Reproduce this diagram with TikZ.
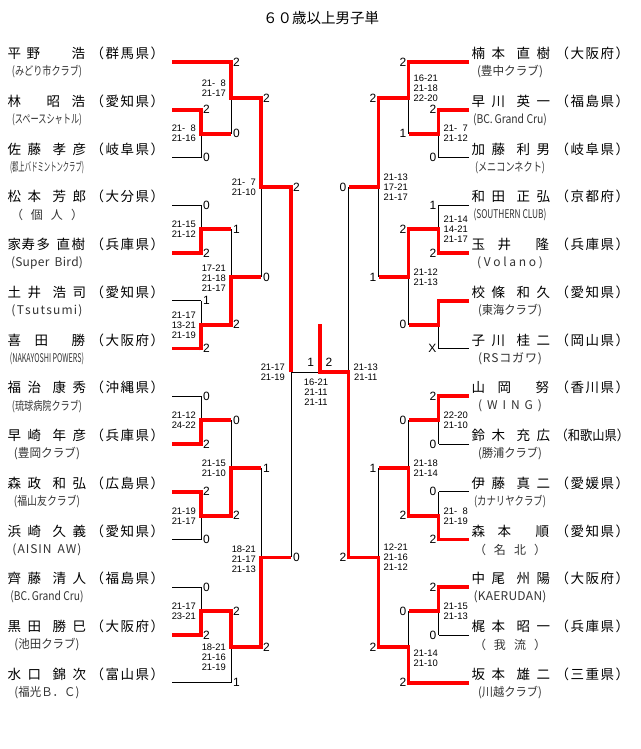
\documentclass[tikz,border=0pt]{standalone}
\usepackage{fontspec}
\usepackage{graphicx}
\setmainfont{Noto Sans CJK JP}
\newfontfamily\numf{Liberation Sans}
\usetikzlibrary{calc}
\newcommand\fsp{\phantom{0}}
\newcommand\nf[4]{\makebox[0pt][l]{#1}\hspace{20pt}\makebox[0pt][l]{#2}\hspace{25pt}\makebox[0pt][l]{#3}\hspace{20pt}\makebox[13.5pt][l]{#4}}
\newcommand\nt[4]{\makebox[0pt][l]{#1}\hspace{#4pt}\makebox[0pt][l]{#2}\hspace{\dimexpr 64pt-#4pt\relax}\makebox[13.5pt][l]{#3}}
\newcommand\pf[3]{（\kern1.5pt #1\kern1.5pt #2\kern1.5pt #3\kern1.5pt ）}
\newcommand\cw[2]{\resizebox{#1pt}{\height}{#2}}
\newcommand\cs[2]{\makebox[#1pt][s]{#2}}
\tikzset{
  bk/.style={draw=black, line width=1pt},
  rd/.style={draw=red, line width=3.8pt, shorten <=-1.9pt},
  rdp/.style={draw=red, line width=3.8pt},
  sc/.style={font=\numf\fontsize{12}{12}\selectfont, inner sep=0pt},
  gs/.style={font=\numf\fontsize{9.4}{10}\selectfont, inner sep=0pt, align=center},
  nm/.style={font=\fontsize{13.5}{14}\selectfont, inner sep=0pt, anchor=west},
  cl/.style={font=\fontsize{12}{12}\selectfont, inner sep=0pt, text=black!80},
}
\newcommand\plL[7]{%
  \coordinate (s#1) at (172,#2);
  \coordinate (#1) at (#3,#2);
  \draw[#4] (s#1) -- (#1);
  \node[nm] (n#1) at (7.5,#2-8.5) {#5};
  \node[nm] (p#1) at (90.5,#2-8.5) {#6};
  \node[cl] (c#1) at (47,#2+10) {#7};
}
\newcommand\plR[7]{%
  \coordinate (s#1) at (469,#2);
  \coordinate (#1) at (#3,#2);
  \draw[#4] (s#1) -- (#1);
  \node[nm] (n#1) at (471.5,#2-8.5) {#5};
  \node[nm] (p#1) at (555.5,#2-8.5) {#6};
  \node[cl] (c#1) at (510,#2+10) {#7};
}
\newcommand\boutL[7]{%
  \coordinate (#3-v) at ($(#1)!0.5!(#2)$);
  \coordinate (#3) at ($(#3-v)+(#4,0)$);
  \draw[bk] (#1) -- (#2);
  \draw[rd] (#5) -- (#3-v) -- (#3);
  \node[sc, anchor=west] (#3-st) at ($(#1)+(2,0)$) {#6};
  \node[sc, anchor=west] (#3-sb) at ($(#2)+(2,0)$) {#7};
}
\newcommand\boutR[7]{%
  \coordinate (#3-v) at ($(#1)!0.5!(#2)$);
  \coordinate (#3) at ($(#3-v)+(#4,0)$);
  \draw[bk] (#1) -- (#2);
  \draw[rd] (#5) -- (#3-v) -- (#3);
  \node[sc, anchor=east] (#3-st) at ($(#1)+(-2,0)$) {#6};
  \node[sc, anchor=east] (#3-sb) at ($(#2)+(-2,0)$) {#7};
}
\newcommand\gtL[3]{\node[gs, anchor=east] (g#1) at ($(#1-v)+(-5,#2)$) {#3};}
\newcommand\gtR[3]{\node[gs, anchor=west] (g#1) at ($(#1-v)+(5,#2)$) {#3};}
\begin{document}
\begin{tikzpicture}[x=1pt,y=-1pt]
\fill[white] (0,0) rectangle (640,749);
\useasboundingbox (0,0) rectangle (640,749);
\node[font=\fontsize{14.5}{15}\selectfont, inner sep=0pt] (title) at (321,18) {６０歳以上男子単};
% left players
\plL{L1}{62}{231}{rdp}{\nt{平}{野}{浩}{19}}{\pf{群}{馬}{県}}{\cw{70}{(みどり市クラブ)}}
\plL{L2}{109.75}{201}{rdp}{\nt{林}{昭}{浩}{39}}{\pf{愛}{知}{県}}{\cw{70}{(スペースシャトル)}}
\plL{L3}{157.5}{201}{bk}{\nf{佐}{藤}{孝}{彦}}{\pf{岐}{阜}{県}}{\cw{74}{(郡上バドミントンクラブ)}}
\plL{L4}{205.25}{201}{bk}{\nf{松}{本}{芳}{郎}}{\pf{大}{分}{県}}{\cs{72}{（\hfill 個\hfill 人\hfill ）}}
\plL{L5}{253}{201}{rdp}{\makebox[0pt][l]{家}\hspace{14pt}\makebox[0pt][l]{寿}\hspace{15pt}\makebox[0pt][l]{多}\hspace{20pt}\makebox[0pt][l]{直}\hspace{15pt}\makebox[13.5pt][l]{樹}}{\pf{兵}{庫}{県}}{\cs{72}{(\hfill S\hfill u\hfill p\hfill e\hfill r\hspace{5pt}\hfill B\hfill i\hfill r\hfill d\hfill )}}
\plL{L6}{300.75}{201}{bk}{\nf{土}{井}{浩}{司}}{\pf{愛}{知}{県}}{\cs{71}{(\hfill T\hfill s\hfill u\hfill t\hfill s\hfill u\hfill m\hfill i\hfill )}}
\plL{L7}{348.5}{201}{rdp}{\nt{喜}{田}{勝}{27}}{\pf{大}{阪}{府}}{\cw{74}{(NAKAYOSHI POWERS)}}
\plL{L8}{396.25}{201}{bk}{\nf{福}{治}{康}{秀}}{\pf{沖}{縄}{県}}{\cw{70}{(琉球病院クラブ)}}
\plL{L9}{444}{201}{rdp}{\nf{早}{崎}{年}{彦}}{\pf{兵}{庫}{県}}{\cw{66}{(豊岡クラブ)}}
\plL{L10}{491.75}{201}{rdp}{\nf{森}{政}{和}{弘}}{\pf{広}{島}{県}}{\cw{66}{(福山友クラブ)}}
\plL{L11}{539.5}{201}{bk}{\nf{浜}{崎}{久}{義}}{\pf{愛}{知}{県}}{\cs{69}{(\hfill A\hfill I\hfill S\hfill I\hfill N\hspace{5pt}\hfill A\hfill W\hfill )}}
\plL{L12}{587.25}{201}{bk}{\nf{齊}{藤}{清}{人}}{\pf{福}{島}{県}}{\cw{73}{(BC.\,Grand Cru)}}
\plL{L13}{635}{201}{rdp}{\nf{黒}{田}{勝}{巳}}{\pf{大}{阪}{府}}{\cw{65}{(池田クラブ)}}
\plL{L14}{682.75}{231}{bk}{\nf{水}{口}{錦}{次}}{\pf{富}{山}{県}}{\cw{65}{(福光Ｂ．Ｃ)}}
% right players
\plR{R1}{62}{408.5}{rdp}{\nf{楠}{本}{直}{樹}}{\pf{大}{阪}{府}}{\cw{66}{(豊中クラブ)}}
\plR{R2}{109.75}{438.5}{rdp}{\nf{早}{川}{英}{一}}{\pf{福}{島}{県}}{\cw{74}{(BC.\,Grand Cru)}}
\plR{R3}{157.5}{438.5}{bk}{\nf{加}{藤}{利}{男}}{\pf{岐}{阜}{県}}{\cw{70}{(メニコンネクト)}}
\plR{R4}{205.25}{438.5}{bk}{\nf{和}{田}{正}{弘}}{\pf{京}{都}{府}}{\cw{73}{(SOUTHERN CLUB)}}
\plR{R5}{253}{438.5}{rdp}{\nt{玉}{井}{隆}{26}}{\pf{兵}{庫}{県}}{\cs{66}{(\hfill V\hfill o\hfill l\hfill a\hfill n\hfill o\hfill )}}
\plR{R6}{300.75}{438.5}{rdp}{\nf{校}{條}{和}{久}}{\pf{愛}{知}{県}}{\cw{64}{(東海クラブ)}}
\plR{R7}{348.5}{438.5}{bk}{\nf{子}{川}{桂}{二}}{\pf{岡}{山}{県}}{\cs{64}{(\hfill R\hfill S\hfill コ\hfill ガ\hfill ワ\hfill )}}
\plR{R8}{396.25}{438.5}{rdp}{\nt{山}{岡}{努}{26}}{\pf{香}{川}{県}}{\cs{64}{(\hfill W\hfill I\hfill N\hfill G\hfill )}}
\plR{R9}{444}{438.5}{bk}{\nf{鈴}{木}{充}{広}}{\resizebox{73.5pt}{\height}{（和歌山県）}}{\cw{64}{(勝浦クラブ)}}
\plR{R10}{491.75}{438.5}{bk}{\nf{伊}{藤}{真}{二}}{\pf{愛}{媛}{県}}{\cw{72}{(カナリヤクラブ)}}
\plR{R11}{539.5}{438.5}{rdp}{\nt{森}{本}{順}{26}}{\pf{愛}{知}{県}}{\cs{72}{（\hfill 名\hfill 北\hfill ）}}
\plR{R12}{587.25}{438.5}{rdp}{\nf{中}{尾}{州}{陽}}{\pf{大}{阪}{府}}{\cs{73}{(\hfill K\hfill A\hfill E\hfill R\hfill U\hfill D\hfill A\hfill N\hfill )}}
\plR{R13}{635}{438.5}{bk}{\nf{梶}{本}{昭}{一}}{\pf{兵}{庫}{県}}{\cs{72}{（\hfill 我\hfill 流\hfill ）}}
\plR{R14}{682.75}{408.5}{rdp}{\nf{坂}{本}{雄}{二}}{\pf{三}{重}{県}}{\cw{64}{(川越クラブ)}}
% left bouts
\boutL{L2}{L3}{LA}{30}{L2}{2}{0}
\boutL{L1}{LA}{LB}{30}{L1}{2}{0}
\boutL{L4}{L5}{LC}{30}{L5}{0}{2}
\boutL{L6}{L7}{LD}{30}{L7}{1}{2}
\boutL{LC}{LD}{LE}{30}{LD}{1}{2}
\boutL{LB}{LE}{LF}{30}{LB}{2}{0}
\boutL{L8}{L9}{LG}{30}{L9}{0}{2}
\boutL{L10}{L11}{LH}{30}{L10}{2}{0}
\boutL{LG}{LH}{LI}{30}{LH}{0}{2}
\boutL{L12}{L13}{LJ}{30}{L13}{0}{2}
\boutL{LJ}{L14}{LK}{30}{LJ}{2}{1}
\boutL{LI}{LK}{LL}{30}{LK}{1}{2}
% right bouts
\boutR{R2}{R3}{RA}{-30}{R2}{2}{0}
\boutR{R1}{RA}{RB}{-30}{R1}{2}{1}
\boutR{R4}{R5}{RC}{-30}{R5}{1}{2}
\boutR{R6}{R7}{RD}{-30}{R6}{}{X}
\boutR{RC}{RD}{RE}{-30}{RC}{2}{0}
\boutR{RB}{RE}{RF}{-30}{RB}{2}{1}
\boutR{R8}{R9}{RG}{-30}{R8}{2}{0}
\boutR{R10}{R11}{RH}{-30}{R11}{0}{2}
\boutR{RG}{RH}{RI}{-30}{RH}{0}{2}
\boutR{R12}{R13}{RJ}{-30}{R12}{2}{0}
\boutR{RJ}{R14}{RK}{-30}{R14}{0}{2}
\boutR{RI}{RK}{RL}{-30}{RK}{1}{2}
% semis and final
\coordinate (LFin) at ($(LF)!0.5!(LL)$);
\coordinate (RFin) at ($(RF)!0.5!(RL)$);
\coordinate (Ch) at ($(LFin)!0.5!(RFin)$);
\coordinate (ChTop) at ($(Ch)+(0,-48.4)$);
\draw[bk] (LF) -- (LL);
\draw[bk] (RF) -- (RL);
\draw[bk] (LFin) -- (RFin);
\draw[rd] (LF) -- (LFin);
\draw[rd] (RL) -- (RFin) -- (Ch) -- (ChTop);
\node[sc, anchor=west] (sLF) at ($(LF)+(2,0)$) {2};
\node[sc, anchor=west] (sLL) at ($(LL)+(2,0)$) {0};
\node[sc, anchor=east] (sRF) at ($(RF)+(-2,0)$) {0};
\node[sc, anchor=east] (sRL) at ($(RL)+(-2,0)$) {2};
\node[sc, anchor=east] (sFL) at ($(Ch)+(-5.5,-10.4)$) {1};
\node[sc, anchor=west] (sFR) at ($(Ch)+(5.75,-10.4)$) {2};
\node[gs] (gFin) at ($(Ch)+(-3.75,19.6)$) {16-21\\21-11\\21-11};
\node[gs, anchor=east] (gLFin) at ($(LFin)+(-6,0)$) {21-17\\21-19};
\node[gs, anchor=west] (gRFin) at ($(RFin)+(5,0)$) {21-13\\21-11};
% left game scores
\gtL{LA}{0}{21-\fsp 8\\21-16}
\gtL{LB}{-10}{21-\fsp 8\\21-17}
\gtL{LC}{0}{21-15\\21-12}
\gtL{LD}{1}{21-17\\13-21\\21-19}
\gtL{LE}{1}{17-21\\21-18\\21-17}
\gtL{LF}{0}{21-\fsp 7\\21-10}
\gtL{LG}{0}{21-12\\24-22}
\gtL{LH}{1}{21-19\\21-17}
\gtL{LI}{0}{21-15\\21-10}
\gtL{LJ}{0}{21-17\\23-21}
\gtL{LK}{10}{18-21\\21-16\\21-19}
\gtL{LL}{2}{18-21\\21-17\\21-13}
% right game scores
\gtR{RA}{0}{21-\fsp 7\\21-12}
\gtR{RB}{-10}{16-21\\21-18\\22-20}
\gtR{RC}{0}{21-14\\14-21\\21-17}
\gtR{RE}{0}{21-12\\21-13}
\gtR{RF}{0}{21-13\\17-21\\21-17}
\gtR{RG}{0}{22-20\\21-10}
\gtR{RH}{1}{21-\fsp 8\\21-19}
\gtR{RI}{0}{21-18\\21-14}
\gtR{RJ}{0}{21-15\\21-13}
\gtR{RK}{11}{21-14\\21-10}
\gtR{RL}{0}{12-21\\21-16\\21-12}
\end{tikzpicture}
\end{document}
